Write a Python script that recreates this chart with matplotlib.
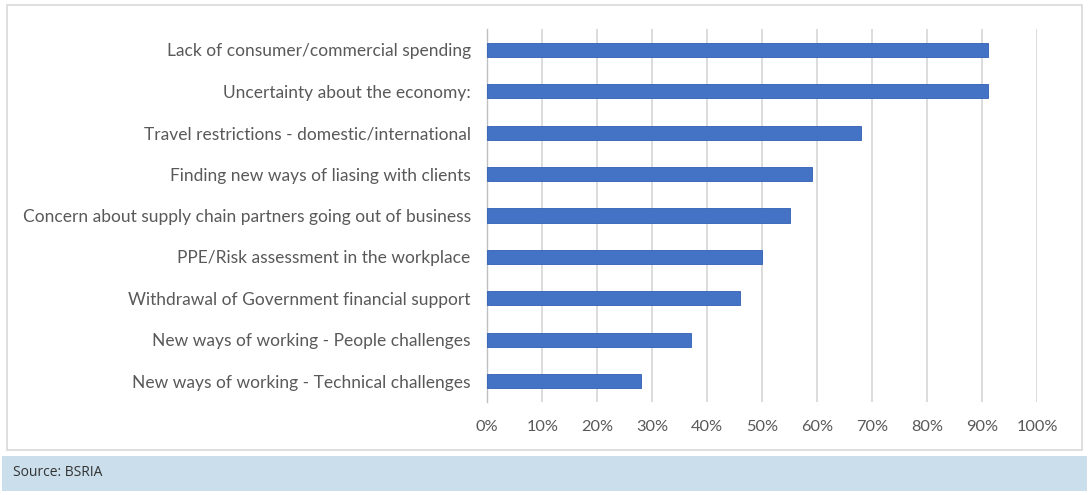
import matplotlib.pyplot as plt
from matplotlib.patches import Rectangle

categories = [
    "Lack of consumer/commercial spending",
    "Uncertainty about the economy:",
    "Travel restrictions - domestic/international",
    "Finding new ways of liasing with clients",
    "Concern about supply chain partners going out of business",
    "PPE/Risk assessment in the workplace",
    "Withdrawal of Government financial support",
    "New ways of working - People challenges",
    "New ways of working - Technical challenges",
]
values = [91, 91, 68, 59, 55, 50, 46, 37, 28]
xticks = [0, 10, 20, 30, 40, 50, 60, 70, 80, 90, 100]

plt.rcParams['font.family'] = ['Lato', 'DejaVu Sans']

fig = plt.figure(figsize=(10.9, 4.95), dpi=100)

# outer frame and source strip
fig.patches.append(Rectangle((7 / 1090, 1 - 450 / 495), 1075 / 1090, 445 / 495,
                             transform=fig.transFigure, facecolor='white',
                             edgecolor='#d9d9d9', linewidth=1.2, zorder=-2))
fig.patches.append(Rectangle((2 / 1090, 1 - 491 / 495), 1085 / 1090, 35 / 495,
                             transform=fig.transFigure, facecolor='#cbdeeb',
                             edgecolor='none', zorder=-2))
fig.text(13 / 1090, 1 - 473 / 495, "Source: BSRIA", fontsize=10,
         family=['Open Sans', 'DejaVu Sans'], color='#333333', va='center')

ax = fig.add_axes([487.3 / 1090, 1 - 402 / 495, (1037 - 487.3) / 1090, (402 - 29) / 495])
ax.set_zorder(1)
ax.patch.set_alpha(0)

y = list(range(len(categories)))
ax.barh(y, values, height=0.34, color='#4472c4', edgecolor='#2f5fb3', linewidth=0.6, zorder=3)
ax.set_ylim(len(categories) - 0.5, -0.5)
ax.set_xlim(0, 100)
ax.set_yticks(y)
ax.set_yticklabels(categories)
ax.set_xticks(xticks)
ax.set_xticklabels([f"{t}%" for t in xticks])
ax.grid(axis='x', color='#d9d9d9', linewidth=1.3, zorder=0)
ax.tick_params(axis='y', length=0, pad=12, labelsize=12.5, labelcolor='#595959')
ax.tick_params(axis='x', length=0, pad=13, labelsize=11.8, labelcolor='#595959')
for s in ['top', 'right', 'bottom']:
    ax.spines[s].set_visible(False)
ax.spines['left'].set_color('#bfbfbf')
ax.spines['left'].set_linewidth(1.0)

fig.savefig('out.png', dpi=100)
